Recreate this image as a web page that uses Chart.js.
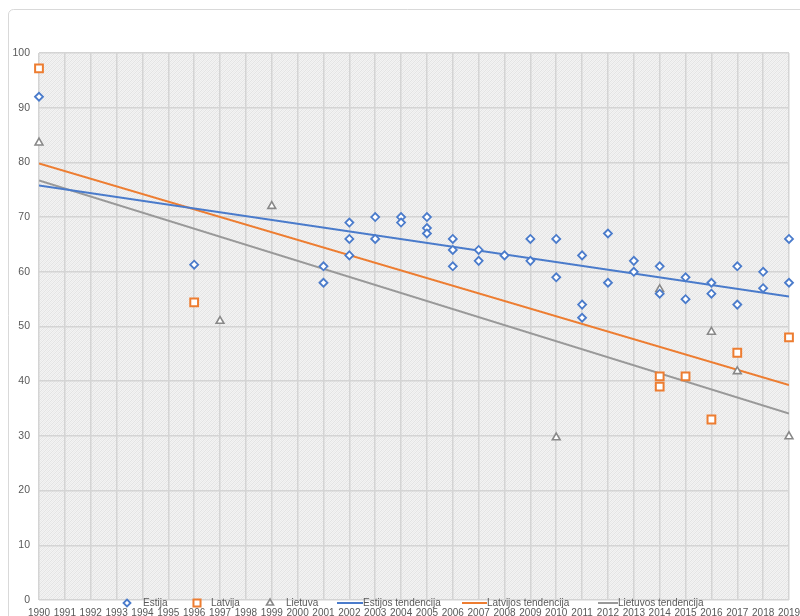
<!DOCTYPE html>
<html><head><meta charset="utf-8">
<script src="https://cdn.jsdelivr.net/npm/chart.js@4.4.0/dist/chart.umd.min.js"></script>
<style>html,body{margin:0;padding:0;background:#fff;}#wrap{width:800px;height:616px;}</style>
</head><body><div id="wrap"><canvas id="c" width="800" height="616"></canvas></div>
<script>
// ---- data ----
const seriesNames = ['Estija', 'Latvija', 'Lietuva', 'Estijos tendencija', 'Latvijos tendencija', 'Lietuvos tendencija'];

const estijaYears  = [1990, 1996, 2001, 2001, 2002, 2002, 2002, 2003, 2003, 2004, 2004, 2005, 2005, 2005, 2006, 2006, 2006, 2007, 2007, 2008, 2009, 2009, 2010, 2010, 2011, 2011, 2011, 2012, 2012, 2013, 2013, 2014, 2014, 2015, 2015, 2016, 2016, 2017, 2017, 2018, 2018, 2019, 2019];
const estijaValues = [92, 61.3, 61, 58, 69, 66, 63, 70, 66, 70, 69, 70, 68, 67, 66, 64, 61, 64, 62, 63, 66, 62, 66, 59, 63, 54, 51.6, 67, 58, 62, 60, 61, 56, 59, 55, 58, 56, 61, 54, 60, 57, 66, 58];

const latvijaYears  = [1990, 1996, 2014, 2014, 2015, 2016, 2017, 2019];
const latvijaValues = [97.2, 54.4, 40.9, 39, 40.9, 33, 45.2, 48];

const lietuvaYears  = [1990, 1997, 1999, 2010, 2014, 2016, 2017, 2019];
const lietuvaValues = [83.6, 51, 72, 29.7, 56.8, 49, 41.8, 29.9];

const trendYears = [1990, 2019];
const estijaTrend  = [75.8, 55.5];
const latvijaTrend = [79.8, 39.3];
const lietuvaTrend = [76.7, 34.1];

const yearTicks = [1990,1991,1992,1993,1994,1995,1996,1997,1998,1999,2000,2001,2002,2003,2004,2005,2006,2007,2008,2009,2010,2011,2012,2013,2014,2015,2016,2017,2018,2019];

// ---- helpers ----
const pts = (xs, ys) => xs.map((x, i) => ({x: x, y: ys[i]}));
const BLUE = '#4a7bcb', ORANGE = '#ED7D31', GRAY = '#888888';
const FONT = "'Liberation Sans', Arial, sans-serif";
const TXT = '#595959';

function makeHatch() {
  const p = document.createElement('canvas');
  p.width = 4; p.height = 4;
  const g = p.getContext('2d');
  g.fillStyle = '#f3f3f3'; g.fillRect(0, 0, 4, 4);
  g.fillStyle = '#e3e3e3';
  for (let i = 0; i < 4; i++) { g.fillRect(i, 3 - i, 1, 1); }
  g.fillStyle = '#ebebeb';
  for (let i = 0; i < 4; i++) { g.fillRect(i, (5 - i) % 4, 1, 1); }
  return p;
}

const bgPlugin = {
  id: 'bg',
  beforeDraw(chart) {
    const ctx = chart.ctx, a = chart.chartArea;
    ctx.save();
    ctx.fillStyle = '#ffffff';
    ctx.fillRect(0, 0, chart.width, chart.height);
    ctx.strokeStyle = '#d9d9d9'; ctx.lineWidth = 1;
    ctx.beginPath();
    ctx.moveTo(8.5, chart.height + 5);
    ctx.lineTo(8.5, 14);
    ctx.arcTo(8.5, 9.5, 13.5, 9.5, 5);
    ctx.lineTo(chart.width + 5, 9.5);
    ctx.stroke();
    ctx.fillStyle = ctx.createPattern(makeHatch(), 'repeat');
    ctx.fillRect(a.left, a.top, a.right - a.left, a.bottom - a.top);
    ctx.restore();
  }
};

function drawMarker(ctx, style, x, y, r, color, bw) {
  ctx.save();
  ctx.strokeStyle = color; ctx.fillStyle = '#fff'; ctx.lineWidth = bw;
  ctx.beginPath();
  if (style === 'rectRot') {
    ctx.moveTo(x, y - r); ctx.lineTo(x + r, y); ctx.lineTo(x, y + r); ctx.lineTo(x - r, y); ctx.closePath();
  } else if (style === 'rect') {
    const s = r * Math.SQRT1_2; ctx.rect(x - s, y - s, 2 * s, 2 * s);
  } else if (style === 'triangle') {
    ctx.moveTo(x, y - r); ctx.lineTo(x + r * 0.87, y + r * 0.5); ctx.lineTo(x - r * 0.87, y + r * 0.5); ctx.closePath();
  }
  ctx.fill(); ctx.stroke();
  ctx.restore();
}

const legendPlugin = {
  id: 'customLegend',
  afterDraw(chart) {
    const ctx = chart.ctx;
    const ds = chart.data.datasets;
    const y = 603;
    const marks = [[127, 143], [197, 211], [270, 286]];
    const lines = [[337, 363], [462, 487], [598, 618]];
    ctx.save();
    ctx.font = '10px ' + FONT;
    ctx.textBaseline = 'middle'; ctx.textAlign = 'left';
    for (let i = 0; i < 3; i++) {
      const d = ds[i];
      drawMarker(ctx, d.pointStyle, marks[i][0], y, d.pointRadius - 0.5, d.borderColor, d.borderWidth);
      ctx.fillStyle = TXT;
      ctx.fillText(d.label, marks[i][1], y);
    }
    for (let i = 0; i < 3; i++) {
      const d = ds[i + 3];
      ctx.strokeStyle = d.borderColor; ctx.lineWidth = d.borderWidth;
      ctx.beginPath(); ctx.moveTo(lines[i][0], y); ctx.lineTo(lines[i][1], y); ctx.stroke();
      ctx.fillStyle = TXT;
      ctx.fillText(d.label, lines[i][1], y);
    }
    ctx.restore();
  }
};

const gridStyle = { color: '#d4d4d4', lineWidth: 1.5, drawTicks: false };

new Chart(document.getElementById('c'), {
  type: 'scatter',
  data: {
    datasets: [
      { label: seriesNames[0], data: pts(estijaYears, estijaValues), pointStyle: 'rectRot', pointRadius: 4, borderColor: BLUE, backgroundColor: '#fff', borderWidth: 1.8, order: 1, clip: false },
      { label: seriesNames[1], data: pts(latvijaYears, latvijaValues), pointStyle: 'rect', pointRadius: 5.5, borderColor: ORANGE, backgroundColor: '#fff', borderWidth: 2, order: 1, clip: false },
      { label: seriesNames[2], data: pts(lietuvaYears, lietuvaValues), pointStyle: 'triangle', pointRadius: 4.5, borderColor: GRAY, backgroundColor: '#fff', borderWidth: 1.6, order: 1, clip: false },
      { label: seriesNames[3], data: pts(trendYears, estijaTrend), showLine: true, pointRadius: 0, borderColor: BLUE, borderWidth: 2, order: 2 },
      { label: seriesNames[4], data: pts(trendYears, latvijaTrend), showLine: true, pointRadius: 0, borderColor: ORANGE, borderWidth: 2, order: 2 },
      { label: seriesNames[5], data: pts(trendYears, lietuvaTrend), showLine: true, pointRadius: 0, borderColor: '#999999', borderWidth: 2, order: 2 }
    ]
  },
  options: {
    responsive: false,
    animation: false,
    devicePixelRatio: 1,
    layout: { padding: { top: 53, right: 11, bottom: 0, left: 0 } },
    plugins: { legend: { display: false }, tooltip: { enabled: false } },
    scales: {
      x: {
        type: 'linear', min: yearTicks[0], max: yearTicks[yearTicks.length - 1],
        afterBuildTicks(scale) { scale.ticks = yearTicks.map(v => ({ value: v })); },
        ticks: { autoSkip: false, maxRotation: 0, minRotation: 0, padding: 7, color: TXT, font: { family: FONT, size: 10 }, callback: v => String(v) },
        grid: gridStyle,
        border: { display: false },
        afterFit(scale) { scale.height = 16; scale.paddingLeft = 0; scale.paddingRight = 0; }
      },
      y: {
        min: 0, max: 100,
        ticks: { stepSize: 10, padding: 9, color: TXT, font: { family: FONT, size: 10.5 } },
        grid: gridStyle,
        border: { display: false },
        afterFit(scale) { scale.width = 39; }
      }
    }
  },
  plugins: [bgPlugin, legendPlugin]
});
</script></body></html>
